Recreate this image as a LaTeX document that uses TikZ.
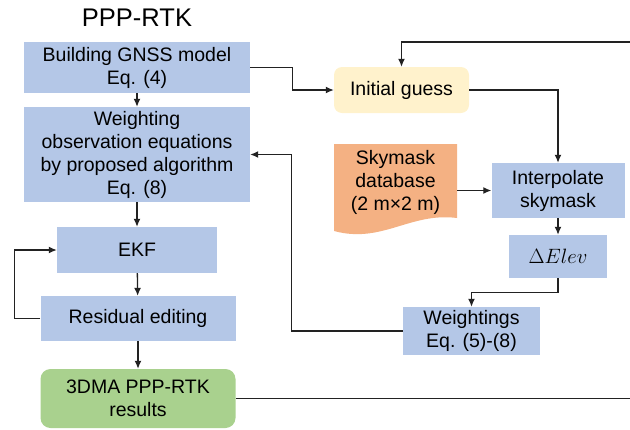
\documentclass[tikz,border=0pt]{standalone}
\usepackage{fontspec}
\setmainfont{Liberation Sans}
\usetikzlibrary{arrows.meta}
\definecolor{boxblue}{HTML}{B4C7E7}
\definecolor{guessyellow}{HTML}{FFF2CC}
\definecolor{maskorange}{HTML}{F4B183}
\definecolor{resultgreen}{HTML}{A9D18E}
\definecolor{linegrey}{HTML}{222222}

\begin{document}
\begin{tikzpicture}[x=1pt,y=-1pt,
    box/.style={fill=boxblue,align=center,inner sep=0pt,
      font=\fontsize{19.5}{23}\selectfont},
    link/.style={draw=linegrey,line width=1.3pt,
      -{Latex[length=8pt,width=7pt]}},
    plain/.style={draw=linegrey,line width=1.3pt}]
  \useasboundingbox (0,0) rectangle (630,429);
  % left column
  \node (title) at (137,18) {\fontsize{25.5}{30}\selectfont PPP-RTK};
  \node[box,minimum width=226pt,minimum height=51pt] (model) at (137,67.5)
    {Building GNSS model\\Eq. (4)};
  \node[box,minimum width=226pt,minimum height=95pt] (weight) at (137,154.5)
    {Weighting\\observation equations\\by proposed algorithm\\Eq. (8)};
  \node[box,minimum width=160pt,minimum height=46pt] (ekf) at (137,250)
    {EKF};
  \node[box,minimum width=195pt,minimum height=45pt] (resid) at (138,318.5)
    {Residual editing};
  \node[box,fill=resultgreen,rounded corners=10pt,minimum width=195pt,
    minimum height=59pt] (result) at (138,398.5) {3DMA PPP-RTK\\results};
  % right column
  \node[box,fill=guessyellow,rounded corners=8pt,minimum width=135pt,
    minimum height=46pt] (guess) at (401.5,90) {Initial guess};
  \fill[maskorange] (334,144) -- (457,144) -- (457,218)
    .. controls (410,212) and (382,244) .. (334,231) -- cycle;
  \node[box,fill=none,minimum width=123pt] (sky) at (395.5,182)
    {Skymask\\database\\(2 m×2 m)};
  \node[box,minimum width=133pt,minimum height=55pt] (interp) at (558,190.5)
    {Interpolate\\skymask};
  \node[box,minimum width=98pt,minimum height=43pt] (elev) at (558,256.5)
    {$\Delta Elev$};
  \node[box,minimum width=137pt,minimum height=48pt] (wgt) at (471.5,331)
    {Weightings\\Eq. (5)-(8)};
  \coordinate (loop) at (645,42);
  % connectors
  \draw[link] (model) -- (weight);
  \draw[link] (weight) -- (ekf);
  \draw[link] (ekf) -- (resid);
  \draw[link] (resid) -- (result);
  \draw[link] (resid.west) -- ++(-26,0) |- (ekf.west);
  \draw[link] (model.east) -- ++(42,0) |- (guess.west);
  \draw[link] (guess.east) -| (interp.north);
  \draw[link] (sky.east |- interp.west) -- (interp.west);
  \draw[link] (interp) -- (elev);
  \draw[link] (elev.south) -- ++(0,14) -| (wgt.north);
  \draw[link] (wgt.west) -- ++(-111,0) |- (weight.east);
  \draw[link] (result.east) -| (loop) -| (guess.north);
\end{tikzpicture}
\end{document}
